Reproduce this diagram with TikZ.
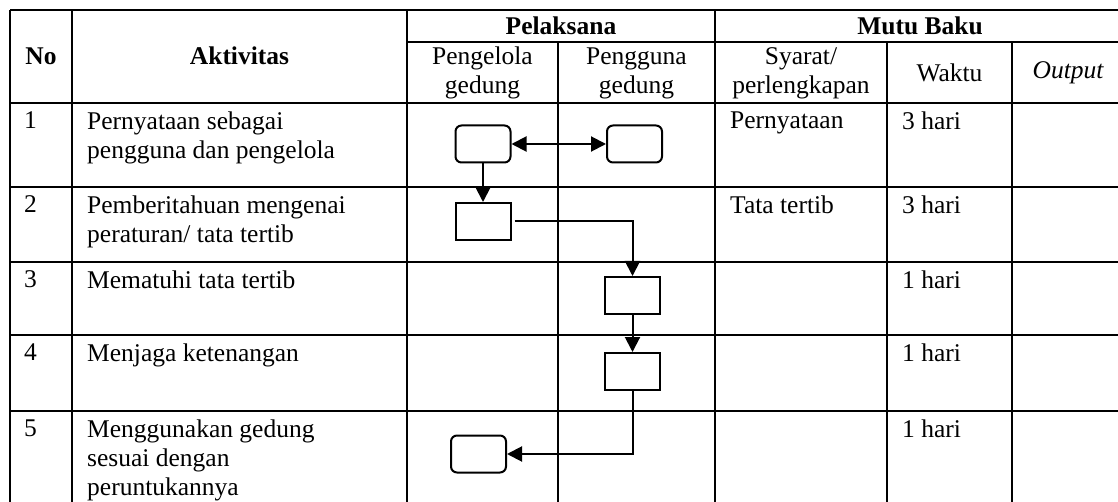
\documentclass[tikz,border=0pt]{standalone}
\usepackage{fontspec}
\setmainfont{Liberation Serif}
\usetikzlibrary{arrows.meta}
\newcommand{\tabfont}{\fontsize{25.5}{29}\selectfont}
\tikzstyle{proc}=[rectangle, sharp corners, draw=black, line width=2pt,
  minimum width=55pt, minimum height=37pt, inner sep=0pt]
\tikzstyle{term}=[proc, rounded corners=6pt]
\tikzstyle{arrflow}=[-{Triangle[length=15pt,width=15pt]}, line width=2pt, draw=black]
\tikzstyle{arrboth}=[arrflow, {Triangle[length=15pt,width=15pt]}-{Triangle[length=15pt,width=15pt]}]
\tikzstyle{tabline}=[line width=1.6pt, draw=black]
\tikzstyle{hdr}=[font=\tabfont\bfseries, align=center, inner sep=0pt]
\tikzstyle{subhdr}=[align=center, inner sep=0pt]
\tikzstyle{celltext}=[anchor=north west, align=left, inner sep=0pt]

\begin{document}
\begin{tikzpicture}[x=1pt, y=-1pt, font=\tabfont]
\useasboundingbox (0,0) rectangle (1118,502);

% table rules
\draw[tabline] (10,10) -- (1118,10);
\draw[tabline] (407,42) -- (1118,42);
\draw[tabline] (10,103) -- (1118,103);
\draw[tabline] (10,187) -- (1118,187);
\draw[tabline] (10,262) -- (1118,262);
\draw[tabline] (10,335) -- (1118,335);
\draw[tabline] (10,411) -- (1118,411);
\draw[tabline] (10,10) -- (10,502);
\draw[tabline] (72,10) -- (72,502);
\draw[tabline] (407,10) -- (407,502);
\draw[tabline] (715,10) -- (715,502);
\draw[tabline] (558,42) -- (558,502);
\draw[tabline] (887,42) -- (887,502);
\draw[tabline] (1012,42) -- (1012,502);

% header
\node[hdr] (hno) at (41,56) {No};
\node[hdr] (hakt) at (239.5,56) {Aktivitas};
\node[hdr] (hpel) at (561,26) {Pelaksana};
\node[hdr] (hmutu) at (920,26) {Mutu Baku};
\node[subhdr] (hpengelola) at (482.5,73) {Pengelola\\gedung};
\node[subhdr] (hpengguna) at (636.5,73) {Pengguna\\gedung};
\node[subhdr] (hsyarat) at (801,73) {Syarat/\\perlengkapan};
\node[subhdr] (hwaktu) at (949.5,72.5) {Waktu};
\node[subhdr] (houtput) at (1068,72.5) {\itshape Output};

% rows
\node[celltext] (no1) at (24,111.5) {1};
\node[celltext] (akt1) at (87,111.5) {Pernyataan sebagai\\pengguna dan pengelola};
\node[celltext] (syr1) at (730,111.5) {Pernyataan};
\node[celltext] (wkt1) at (902,111.5) {3 hari};

\node[celltext] (no2) at (24,195.5) {2};
\node[celltext] (akt2) at (87,195.5) {Pemberitahuan mengenai\\peraturan/ tata tertib};
\node[celltext] (syr2) at (730,195.5) {Tata tertib};
\node[celltext] (wkt2) at (902,195.5) {3 hari};

\node[celltext] (no3) at (24,270.5) {3};
\node[celltext] (akt3) at (87,270.5) {Mematuhi tata tertib};
\node[celltext] (wkt3) at (902,270.5) {1 hari};

\node[celltext] (no4) at (24,343.5) {4};
\node[celltext] (akt4) at (87,343.5) {Menjaga ketenangan};
\node[celltext] (wkt4) at (902,343.5) {1 hari};

\node[celltext] (no5) at (24,419.5) {5};
\node[celltext] (akt5) at (87,419.5) {Menggunakan gedung\\sesuai dengan\\peruntukannya};
\node[celltext] (wkt5) at (902,419.5) {1 hari};

% flow
\node[term] (decl) at (483,144) {};
\node[term] (user) at (634.5,144) {};
\node[proc] (notice) at (483,221.5) {};
\node[proc] (obey) at (632.5,295.5) {};
\node[proc] (quiet) at (632.5,371.5) {};
\node[term] (use) at (478.5,454) {};

\draw[arrboth] (decl) -- (user);
\draw[arrflow] (decl) -- (notice);
\draw[arrflow, shorten <=3pt] (notice.east) -| (obey.north);
\draw[arrflow] (obey) -- (quiet);
\draw[arrflow] (quiet.south) |- (use.east);

\end{tikzpicture}
\end{document}
